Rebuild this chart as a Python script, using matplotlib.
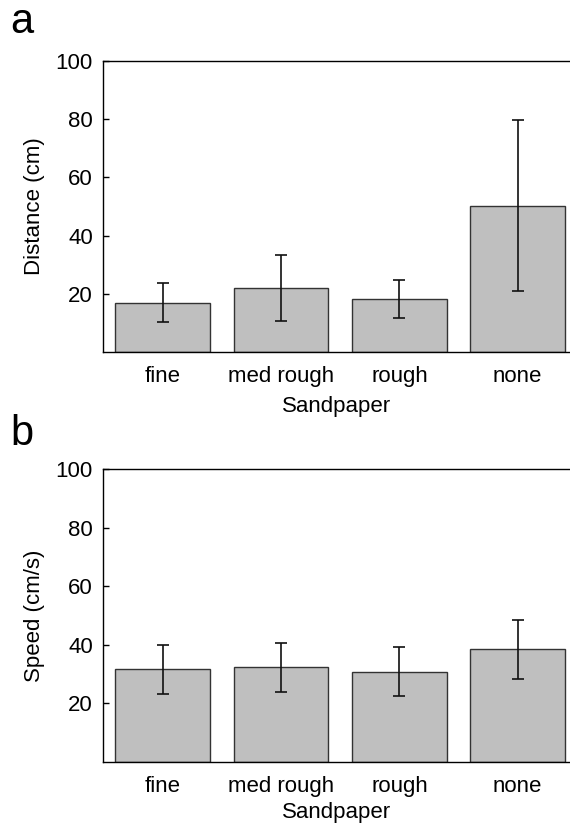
import matplotlib
matplotlib.use("Agg")
import matplotlib.pyplot as plt
import numpy as np

plt.rcParams['font.family'] = ['Liberation Sans', 'DejaVu Sans']

categories = ["fine", "med rough", "rough", "none"]
distance_mean = [17.0, 22.0, 18.3, 50.3]
distance_err = [6.7, 11.3, 6.45, 29.35]
speed_mean = [31.6, 32.3, 30.7, 38.4]
speed_err = [8.3, 8.4, 8.4, 10.05]
yticks = [20, 40, 60, 80, 100]

W, H = 570, 825
fig = plt.figure(figsize=(W / 100, H / 100), dpi=100)

def px_axes(left, top, right, bottom):
    return fig.add_axes([left / W, 1 - bottom / H, (right - left) / W, (bottom - top) / H])

ax_a = px_axes(102.7, 60.7, 571, 352.3)
ax_b = px_axes(102.7, 469.3, 571, 761.7)

def draw(ax, means, errs, ylabel, xlabelpad):
    x = np.arange(len(categories))
    ax.bar(x, means, width=0.8, color='#bfbfbf', edgecolor='#333333', linewidth=1.0, zorder=2)
    ax.errorbar(x, means, yerr=errs, fmt='none', ecolor='#111111', elinewidth=1.2,
                capsize=4.3, capthick=1.2, zorder=3)
    ax.set_xlim(-0.507, 3.45)
    ax.set_ylim(0, 100)
    ax.set_yticks(yticks)
    ax.set_xticks(x)
    ax.set_xticklabels(categories, fontsize=16)
    ax.tick_params(axis='y', direction='in', length=4, width=1.0, pad=7, labelsize=16)
    ax.tick_params(axis='x', length=0, pad=10, labelsize=16)
    for s in ['left', 'top', 'bottom']:
        ax.spines[s].set_linewidth(1.0)
    ax.spines['right'].set_visible(False)
    ax.set_xlabel("Sandpaper", fontsize=16, labelpad=xlabelpad)
    ax.set_ylabel(ylabel, fontsize=16, labelpad=8)

draw(ax_a, distance_mean, distance_err, "Distance (cm)", 6.5)
draw(ax_b, speed_mean, speed_err, "Speed (cm/s)", 4.0)

fig.text(10 / W, 1 - 33 / H, "a", fontsize=30, va='baseline', ha='left')
fig.text(10 / W, 1 - 445 / H, "b", fontsize=30, va='baseline', ha='left')

fig.savefig("out.png", dpi=100)
